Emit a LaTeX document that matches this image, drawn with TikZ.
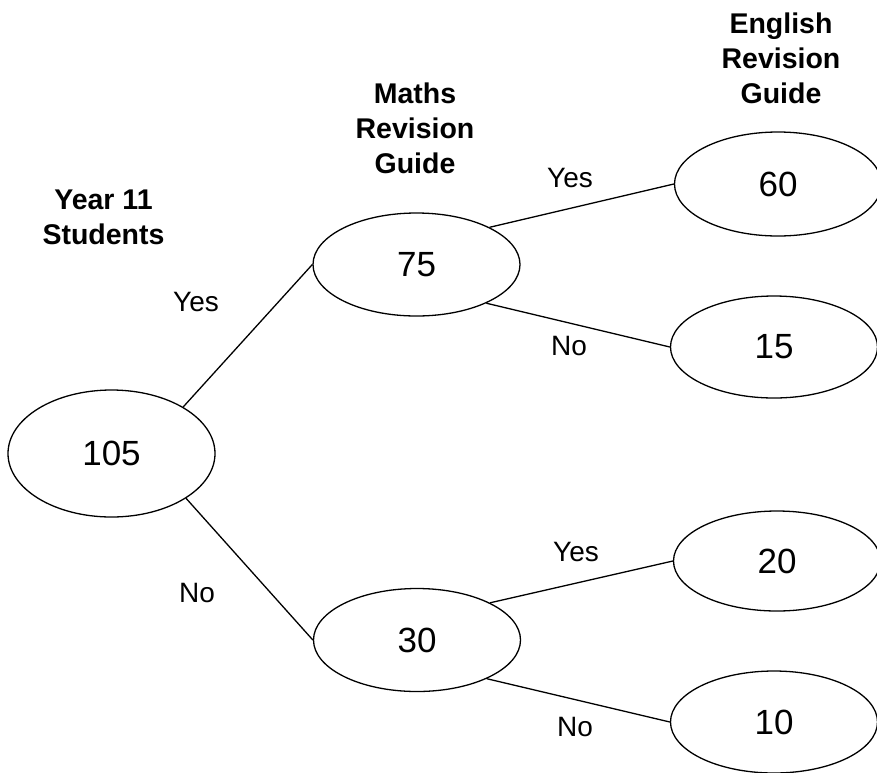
\documentclass[tikz,border=0pt]{standalone}
\usepackage{fontspec}
\setmainfont{Liberation Sans}
\usetikzlibrary{shapes.geometric}
\begin{document}
\begin{tikzpicture}[x=1pt,y=-1pt,
  oval/.style={ellipse,draw,line width=1.3pt,inner sep=0pt,minimum width=207pt,font=\fontsize{35}{40}\selectfont},
  lbl/.style={inner sep=0pt,font=\fontsize{28}{34}\selectfont},
  head/.style={inner sep=0pt,anchor=north,align=center,font=\fontsize{28.5}{35}\selectfont\bfseries},
  edge/.style={line width=1.3pt}]
\useasboundingbox (0,0) rectangle (877,772);
\node[oval,minimum height=127pt] (n105) at (111.5,453.5) {105};
\node[oval,minimum height=103pt] (n75) at (416.5,264.5) {75};
\node[oval,minimum height=103pt] (n30) at (417,640) {30};
\node[oval,minimum height=104pt] (n60) at (778,184) {60};
\node[oval,minimum height=102pt] (n15) at (774,347) {15};
\node[oval,minimum height=100pt] (n20) at (777,561) {20};
\node[oval,minimum height=102pt] (n10) at (774,722) {10};
\node[head] (h1) at (103.5,190) {Year 11\\Students};
\node[head] (h2) at (415,83) {Maths\\Revision\\Guide};
\node[head] (h3) at (781,13) {English\\Revision\\Guide};
\node[lbl] (y1) at (196,302) {Yes};
\node[lbl] (o1) at (197,593) {No};
\node[lbl] (y2) at (570,178) {Yes};
\node[lbl] (o2) at (569,346) {No};
\node[lbl] (y3) at (576,552) {Yes};
\node[lbl] (o3) at (575,727) {No};
\draw[edge] (n105.33) -- (n75.west);
\draw[edge] (n105.-31) -- (n30.west);
\draw[edge] (n75.27) -- (n60.west);
\draw[edge] (n75.-29) -- (n15.west);
\draw[edge] (n30.27) -- (n20.west);
\draw[edge] (n30.-29) -- (n10.west);
\end{tikzpicture}
\end{document}
